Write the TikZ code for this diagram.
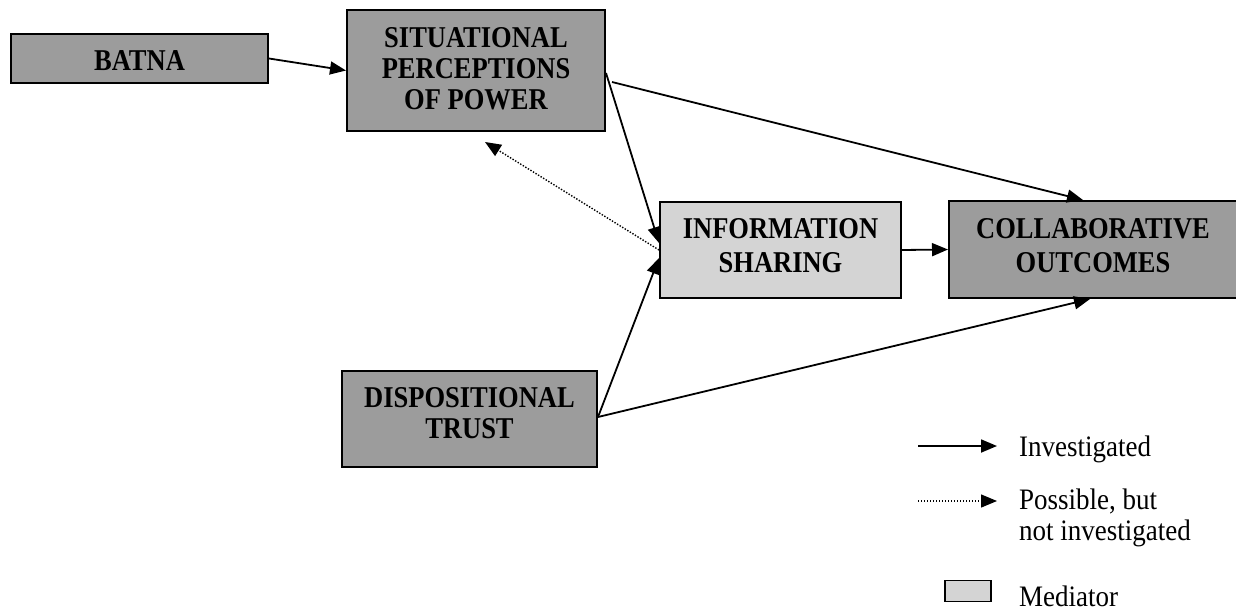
\documentclass[tikz,border=0pt]{standalone}
\usepackage{fontspec}
\usepackage{graphicx}
\setmainfont{Liberation Serif}
\usetikzlibrary{arrows.meta}
\definecolor{darkfill}{gray}{0.61}
\definecolor{lightfill}{gray}{0.83}
\newcommand{\tallbox}[2]{\scalebox{1}[1.14]{\fontsize{26.5}{#1}\selectfont\bfseries\begin{tabular}{@{}c@{}}#2\end{tabular}}}
\newcommand{\tallleg}[1]{\scalebox{1}[1.1]{\fontsize{27}{28}\selectfont\begin{tabular}{@{}l@{}}#1\end{tabular}}}
\tikzset{
  box/.style={draw=black, line width=2pt, fill=darkfill, inner sep=0pt, align=center},
  medbox/.style={box, fill=lightfill},
  conn/.style={line width=1.8pt, -{Triangle[length=16pt,width=13pt]}},
  possible/.style={line width=1.4pt, dash pattern=on 1.4pt off 1.6pt, -{Triangle[length=16pt,width=13pt]}},
  legtext/.style={anchor=west, inner sep=0pt},
  boxtext/.style={inner sep=0pt},
}
\begin{document}
\begin{tikzpicture}[x=1pt,y=-1pt]
\useasboundingbox (0,0) rectangle (1236,612);
\node[box, minimum width=257pt, minimum height=49pt] (batna) at (139.5,58.5) {};
\node[boxtext] (batnat) at (139.5,64) {\tallbox{27}{BATNA}};
\node[box, minimum width=258pt, minimum height=121pt] (sit) at (476,70.5) {};
\node[boxtext] (sitt) at (476,72) {\tallbox{27.2}{SITUATIONAL\\PERCEPTIONS\\OF POWER}};
\node[medbox, minimum width=241pt, minimum height=96pt] (info) at (780.5,250) {};
\node[boxtext] (infot) at (780.5,249) {\tallbox{29.8}{INFORMATION\\SHARING}};
\node[box, minimum width=296pt, minimum height=97pt] (collab) at (1097,249.5) {};
\node[boxtext] (collabt) at (1093,249) {\tallbox{29.8}{COLLABORATIVE\\OUTCOMES}};
\node[box, minimum width=255pt, minimum height=96pt] (trust) at (469.5,419) {};
\node[boxtext] (trustt) at (469.5,417) {\tallbox{26.5}{DISPOSITIONAL\\TRUST}};

\draw[conn] (batna.east) -- (sit.west);
\draw[conn] ([xshift=6pt,yshift=-11.5pt]sit.east) -- ([xshift=-14pt]collab.north);
\draw[conn] ([yshift=-2.5pt]sit.east) -- ([yshift=7pt]info.west);
\draw[possible] (info.west) -- ([xshift=9pt,yshift=-10pt]sit.south);
\draw[conn] ([yshift=2pt]trust.east) -- ([yshift=-8pt]info.west);
\draw[conn] ([yshift=2pt]trust.east) -- ([xshift=-7pt]collab.south);
\draw[conn] (info.east) -- (collab.west);

% legend
\coordinate (l1a) at (918,446);
\coordinate (l1b) at (997,446);
\draw[conn] (l1a) -- (l1b);
\node[legtext] (l1t) at (1019,450) {\tallleg{Investigated}};
\coordinate (l2a) at (918,501);
\coordinate (l2b) at (997,501);
\draw[possible] (l2a) -- (l2b);
\node[legtext] (l2t) at (1019,519) {\tallleg{Possible, but\\not investigated}};
\node[draw=black, line width=1.2pt, fill=lightfill, minimum width=46pt, minimum height=21pt, inner sep=0pt] (lmed) at (968,591) {};
\node[legtext] (l3t) at (1019,600) {\tallleg{Mediator}};
\end{tikzpicture}
\end{document}
